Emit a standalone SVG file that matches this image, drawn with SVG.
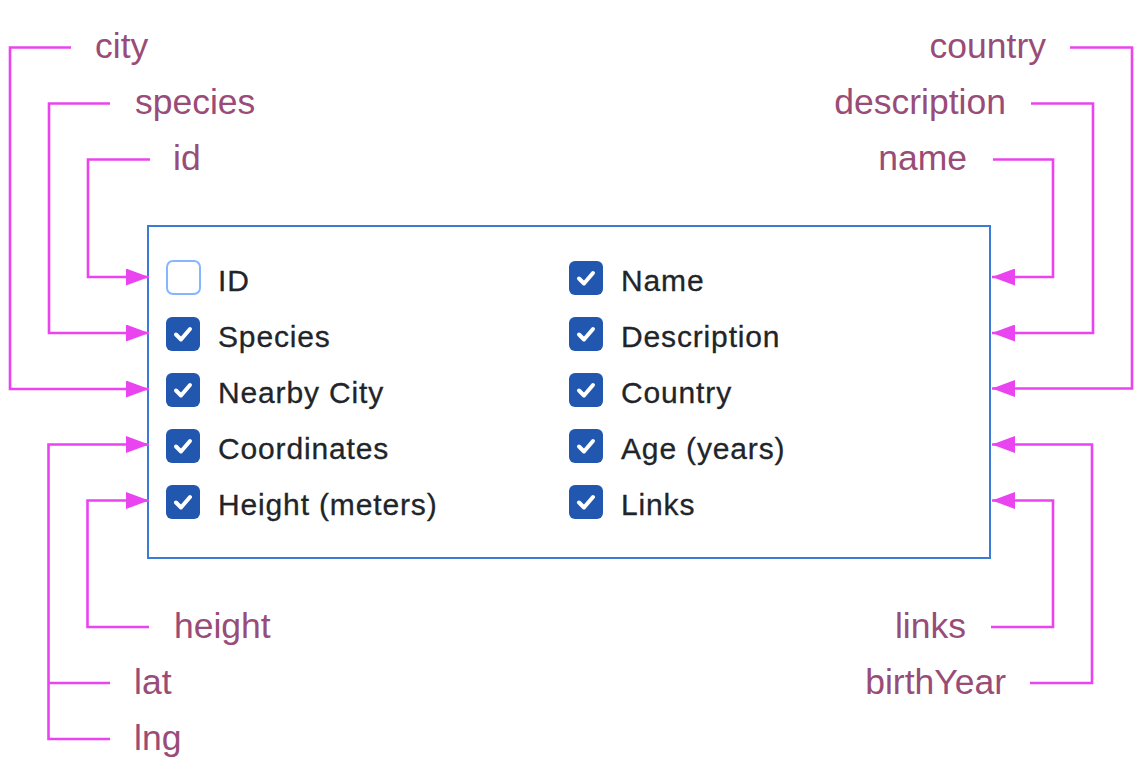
<svg xmlns="http://www.w3.org/2000/svg" width="1144" height="774" viewBox="0 0 1144 774">
<style>
.lbl{font-family:"Liberation Sans",Arial,sans-serif;font-size:35.5px;fill:#994c77}
.item{font-family:"Liberation Sans",Arial,sans-serif;font-size:30px;fill:#212529;letter-spacing:0.85px;stroke:#212529;stroke-width:0.3}
.conn{fill:none;stroke:#ea44f0;stroke-width:2.6}
.arr{marker-end:url(#ah)}
.cb{fill:#2257b0}
.cbu{fill:#fff;stroke:#86b7fe;stroke-width:2}
.chk{fill:none;stroke:#fff;stroke-width:4;stroke-linecap:round;stroke-linejoin:round}
</style>
<defs>
<marker id="ah" markerUnits="userSpaceOnUse" viewBox="0 0 23 17" refX="23" refY="8.5" markerWidth="23" markerHeight="17" orient="auto">
<path d="M0,0 L23,8.5 L0,17 Z" fill="#ea44f0"/>
</marker>
<g id="check"><rect x="0" y="0" width="34" height="34" rx="6" class="cb"/><path d="M10,17.5 L15,22.5 L24,12" class="chk"/></g>
</defs>
<rect width="1144" height="774" fill="#fff"/>
<g id="panel">
<rect x="148" y="226" width="842" height="332" fill="#fff" stroke="#3a7bd5" stroke-width="2"/>
</g>
<g id="opt-id"><rect x="167" y="261" width="33" height="33" rx="6" class="cbu"/><text class="item" x="218" y="291">ID</text></g>
<g id="opt-species"><use href="#check" x="166" y="317"/><text class="item" x="218" y="347">Species</text></g>
<g id="opt-city"><use href="#check" x="166" y="373"/><text class="item" x="218" y="403">Nearby City</text></g>
<g id="opt-coords"><use href="#check" x="166" y="429"/><text class="item" x="218" y="459">Coordinates</text></g>
<g id="opt-height"><use href="#check" x="166" y="485"/><text class="item" x="218" y="515">Height (meters)</text></g>
<g id="opt-name"><use href="#check" x="569" y="261"/><text class="item" x="621" y="291">Name</text></g>
<g id="opt-desc"><use href="#check" x="569" y="317"/><text class="item" x="621" y="347">Description</text></g>
<g id="opt-country"><use href="#check" x="569" y="373"/><text class="item" x="621" y="403">Country</text></g>
<g id="opt-age"><use href="#check" x="569" y="429"/><text class="item" x="621" y="459">Age (years)</text></g>
<g id="opt-links"><use href="#check" x="569" y="485"/><text class="item" x="621" y="515">Links</text></g>

<g id="lbl-city"><text class="lbl" x="95" y="58">city</text></g>
<g id="lbl-species"><text class="lbl" x="135" y="114">species</text></g>
<g id="lbl-id"><text class="lbl" x="173" y="170">id</text></g>
<g id="lbl-country"><text class="lbl" x="1046" y="58" text-anchor="end">country</text></g>
<g id="lbl-description"><text class="lbl" x="1006" y="114" text-anchor="end">description</text></g>
<g id="lbl-name"><text class="lbl" x="967" y="170" text-anchor="end">name</text></g>
<g id="lbl-height"><text class="lbl" x="174" y="638">height</text></g>
<g id="lbl-lat"><text class="lbl" x="134" y="694">lat</text></g>
<g id="lbl-lng"><text class="lbl" x="134" y="750">lng</text></g>
<g id="lbl-links"><text class="lbl" x="966" y="638" text-anchor="end">links</text></g>
<g id="lbl-birthYear"><text class="lbl" x="1006" y="694" text-anchor="end">birthYear</text></g>

<g id="connectors">
<path class="conn arr" d="M71,47.5 H10 V389 H149"/>
<path class="conn arr" d="M110,103.5 H49 V333 H149"/>
<path class="conn arr" d="M150,159.5 H88 V277 H149"/>
<path class="conn arr" d="M1070,47.5 H1132 V388.5 H992"/>
<path class="conn arr" d="M1031,103.5 H1093 V333 H992"/>
<path class="conn arr" d="M993,159.5 H1053 V277 H992"/>
<path class="conn arr" d="M110,739 H48.5 V444.5 H149"/>
<path class="conn" d="M110,683 H48.5"/>
<path class="conn arr" d="M149,627 H87.5 V500.5 H149"/>
<path class="conn arr" d="M1030,683 H1092 V444.5 H992"/>
<path class="conn arr" d="M991,627 H1053 V500.5 H992"/>
</g>
</svg>
